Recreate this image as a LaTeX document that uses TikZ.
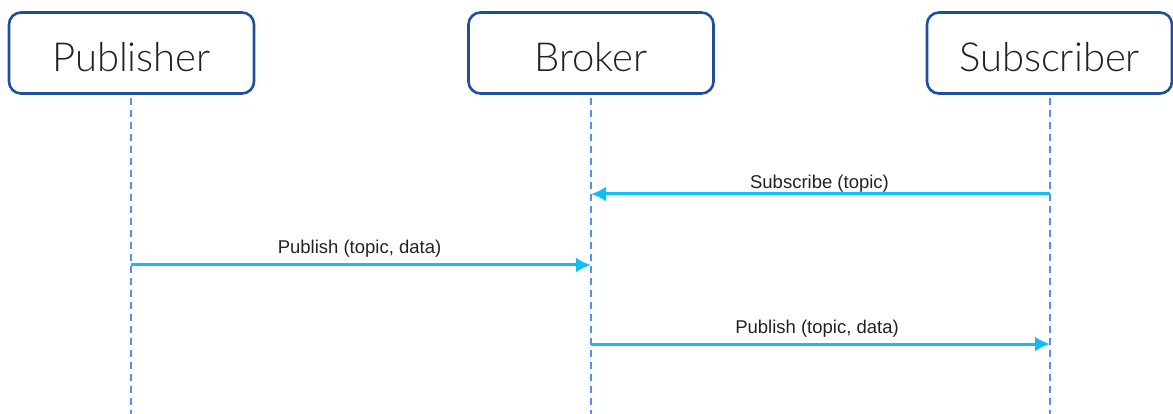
\documentclass[tikz,border=0pt]{standalone}
\usepackage{fontspec}
\setmainfont{Liberation Sans}
\newfontfamily\titlefont{Lato Light}
\usetikzlibrary{arrows.meta}
\definecolor{boxblue}{HTML}{1F4E9A}
\definecolor{lifeblue}{HTML}{5B8DEF}
\definecolor{msgblue}{HTML}{10BEF5}
\definecolor{txt}{HTML}{222222}
\tikzset{
  actor/.style={draw=boxblue, line width=2.6pt, rounded corners=12pt, fill=white,
    minimum width=245pt, minimum height=81pt, inner sep=0pt,
    text depth=0pt, text height=0pt},
  actortext/.style={font=\titlefont\fontsize{40}{40}\selectfont, text=txt,
    inner sep=0pt, anchor=base},
  lifeline/.style={draw=lifeblue, line width=1.3pt, dash pattern=on 7pt off 5pt},
  msg/.style={draw=msgblue, line width=3pt, -{Latex[length=15pt,width=15pt]}},
  msglabel/.style={font=\fontsize{18.5}{18.5}\selectfont, text=txt, inner sep=0pt, anchor=base}
}
\begin{document}
\begin{tikzpicture}[x=1pt,y=-1pt]
  \useasboundingbox (0,0) rectangle (1173,414);
  % actor boxes with their titles
  \node[actor] (pub) at (131.5,53) {};
  \node[actor] (bro) at (591,53) {};
  \node[actor] (sub) at (1049.5,53) {};
  \node[actortext] (pubt) at (131.5,72) {Publisher};
  \node[actortext] (brot) at (591,72) {Broker};
  \node[actortext] (subt) at (1049.5,72) {Subscriber};
  % lifelines
  \coordinate (pubtop) at (131,98);  \coordinate (pubend) at (131,414);
  \coordinate (brotop) at (591,98);  \coordinate (broend) at (591,414);
  \coordinate (subtop) at (1050,98); \coordinate (subend) at (1050,414);
  \draw[lifeline] (pubtop) -- (pubend);
  \draw[lifeline] (brotop) -- (broend);
  \draw[lifeline] (subtop) -- (subend);
  % messages
  \coordinate (m1s) at (1050,194); \coordinate (m1e) at (591,194);
  \coordinate (m2s) at (131,265);  \coordinate (m2e) at (591,265);
  \coordinate (m3s) at (591,344);  \coordinate (m3e) at (1050,344);
  \draw[msg] (m1s) -- (m1e);
  \draw[msg] (m2s) -- (m2e);
  \draw[msg] (m3s) -- (m3e);
  \node[msglabel] (l1) at (819.5,189) {Subscribe (topic)};
  \node[msglabel] (l2) at (359.5,254) {Publish (topic, data)};
  \node[msglabel] (l3) at (817,333) {Publish (topic, data)};
\end{tikzpicture}
\end{document}
